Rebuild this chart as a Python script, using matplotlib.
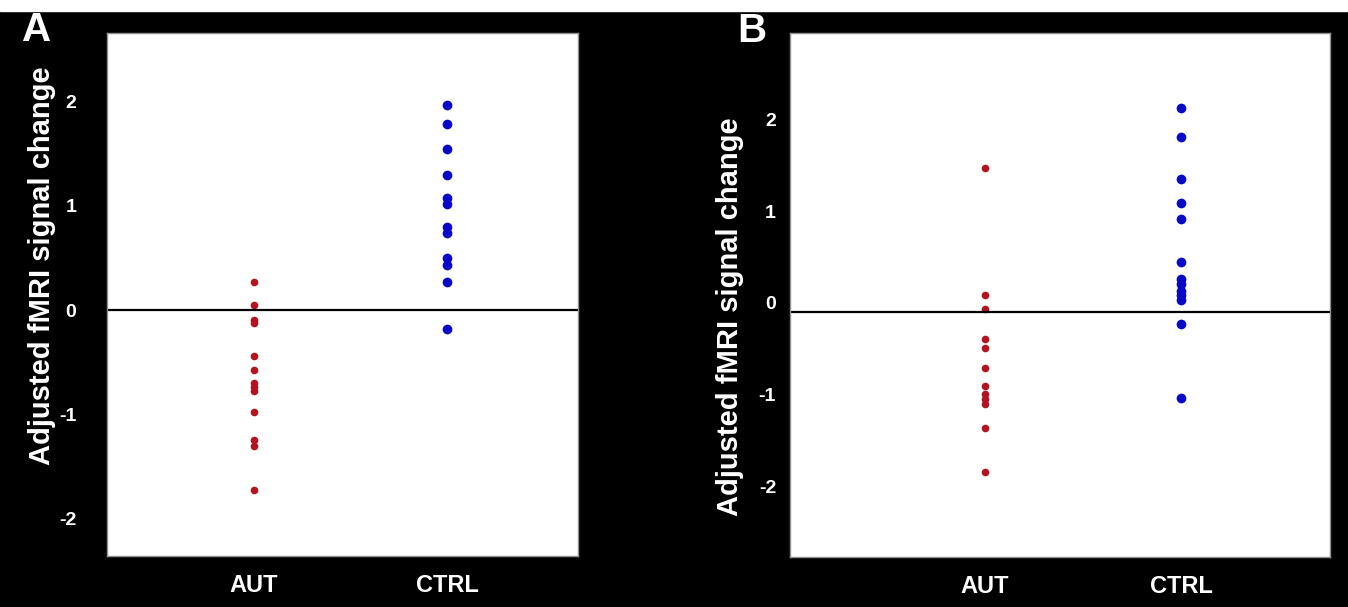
import matplotlib
matplotlib.use('Agg')
import matplotlib.pyplot as plt
from matplotlib.patches import Rectangle

plt.rcParams['font.family'] = ['Liberation Sans', 'DejaVu Sans']

groups = ['AUT', 'CTRL']
yticks = [-2, -1, 0, 1, 2]
# panel A
a_aut = [0.27, 0.05, -0.09, -0.12, -0.44, -0.57, -0.70, -0.74, -0.78, -0.98, -1.25, -1.30, -1.73]
a_ctrl = [1.97, 1.79, 1.55, 1.30, 1.08, 1.02, 0.80, 0.74, 0.50, 0.43, 0.27, -0.185]
# panel B
b_aut = [1.47, 0.09, -0.07, -0.39, -0.49, -0.71, -0.91, -0.99, -1.05, -1.10, -1.36, -1.84]
b_ctrl = [2.12, 1.81, 1.35, 1.09, 0.91, 0.44, 0.26, 0.20, 0.13, 0.08, 0.03, -0.23, -1.04]

RED = '#b3121e'
BLUE = '#0808c8'
W, H = 1348, 607


def draw_panel(fig, rect, aut, ctrl, xlim, ylim, ref, ypad, lab_xy):
	axes = fig.add_axes(rect)
	axes.set_facecolor('white')
	axes.plot([1] * len(aut), aut, 'o', color=RED, markersize=5.5, markeredgewidth=0)
	axes.plot([2] * len(ctrl), ctrl, 'o', color=BLUE, markersize=7, markeredgewidth=0)
	axes.axhline(ref, color='black', lw=1.6)
	axes.set_xlim(*xlim)
	axes.set_ylim(*ylim)
	axes.set_xticks([1, 2], groups)
	axes.set_yticks(yticks, [str(t) for t in yticks])
	axes.tick_params(length=0, colors='white', labelsize=14)
	axes.tick_params(axis='x', labelsize=17, pad=13)
	axes.tick_params(axis='y', pad=ypad)
	for lab in axes.get_xticklabels() + axes.get_yticklabels():
		lab.set_fontweight('bold')
	for sp in axes.spines.values():
		sp.set_color('#909090')
		sp.set_linewidth(1)
	axes.text(lab_xy[0], lab_xy[1], 'Adjusted fMRI signal change', transform=axes.transAxes,
		rotation=90, ha='center', va='center', color='white', fontsize=21, fontweight='bold')
	return axes


def main():
	fig = plt.figure(figsize=(W / 100, H / 100), dpi=100, facecolor='black')
	fig.add_artist(Rectangle((0, 1 - 11 / H), 1, 11 / H, transform=fig.transFigure,
		color='white', zorder=0))

	draw_panel(fig, [107 / W, 51 / H, 471 / W, 523 / H], a_aut, a_ctrl,
		(0.239, 2.678), (-2.36, 2.66), 0, 22, (-0.138, 0.556))
	draw_panel(fig, [790 / W, 50 / H, 540 / W, 524 / H], b_aut, b_ctrl,
		(0.0055, 2.76), (-2.77, 2.94), -0.1, 10, (-0.111, 0.458))

	fig.text(22 / W, 1 - 30 / H, 'A', ha='left', va='center', color='white',
		fontsize=29, fontweight='bold')
	fig.text(737 / W, 1 - 31 / H, 'B', ha='left', va='center', color='white',
		fontsize=29, fontweight='bold')

	fig.savefig('out.png', dpi=100, facecolor='black')


if __name__ == "__main__":
	main()
